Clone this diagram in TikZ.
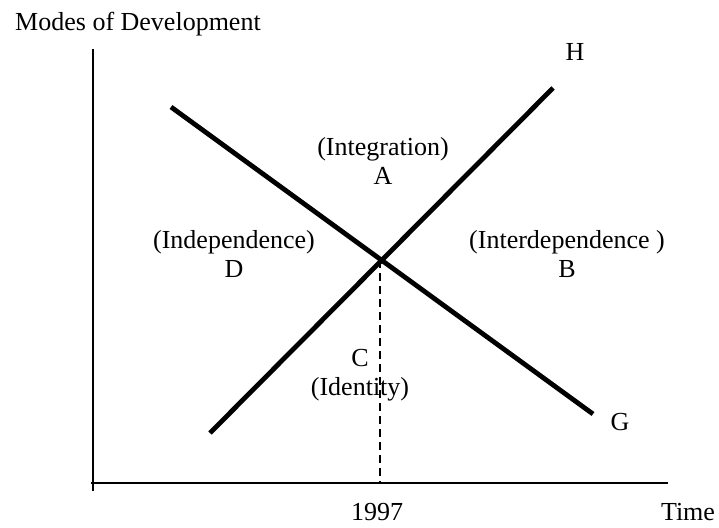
\documentclass[tikz,border=0pt]{standalone}
\usepackage{fontspec}
\setmainfont{Liberation Serif}
\usepackage{tikz}

\tikzset{
  axisline/.style={line width=1.6pt},
  modeline/.style={line width=4.8pt},
  yearline/.style={line width=1.6pt, dash pattern=on 8pt off 5pt},
  lbl/.style={inner sep=0pt, align=center, font=\fontsize{26}{29}\selectfont}
}

\begin{document}
\begin{tikzpicture}[x=1pt,y=-1pt]
\useasboundingbox (0,0) rectangle (719,527);
 \begin{scope}
% axes
\coordinate (ytop) at (93,49);
\coordinate (ybot) at (93,491);
\coordinate (xleft) at (91,483);
\coordinate (xright) at (668,483);
\draw[axisline] (ytop)--(ybot);
\draw[axisline] (xleft)--(xright);
\node[lbl] (ylab) at (138,24) {Modes of Development};
\node[lbl] (xlab) at (688,512) {Time};
% the two modes
\coordinate (g0) at (171,107);
\coordinate (g1) at (593,414);
\coordinate (h0) at (210,433);
\coordinate (h1) at (553,88);
\draw[modeline] (g0) -- (g1);
\draw[modeline] (h0) -- (h1);
\node[lbl] (G) at (620,422) {G};
\node[lbl] (H) at (575,52) {H};
% 1997
\coordinate (cross) at (380,260);
\coordinate (yr) at (380,483);
\draw[yearline] (cross) -- (yr);
\node[lbl] (year) at (377,512) {1997};
% regions
\node[lbl] (A) at (383,161) {(Integration)\\A};
\node[lbl] (B) at (567,254) {(Interdependence )\\B};
\node[lbl] (C) at (360,375) {C\\(Identity)};
\node[lbl] (D) at (234,254) {(Independence)\\D};
\end{scope}
\end{tikzpicture}
\end{document}
